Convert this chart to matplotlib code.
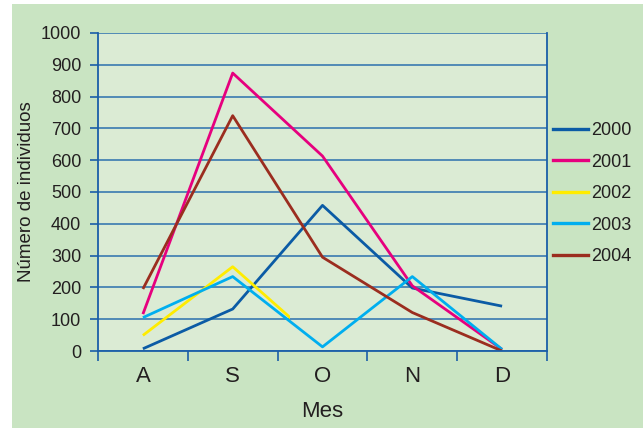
import matplotlib
matplotlib.use("Agg")
import matplotlib.pyplot as plt
from matplotlib.lines import Line2D
from matplotlib.patches import Rectangle

months = ["A", "S", "O", "N", "D"]
years = ["2000", "2001", "2002", "2003", "2004"]
v2000 = [7, 132, 458, 198, 141]
v2001 = [116, 874, 613, 205, 5]
v2002 = [49, 265, 15]          # line stops part way towards O in the reference
v2003 = [105, 234, 13, 234, 5]
v2004 = [195, 740, 295, 121, 0]
series = [v2000, v2001, v2002, v2003, v2004]
colors = ["#0b5ba5", "#e6007e", "#ffec00", "#00aeef", "#9b2d1f"]

plt.rcParams['font.family'] = ['Liberation Sans', 'DejaVu Sans']

fig = plt.figure(figsize=(6.43, 4.28), dpi=100)
fig.patch.set_facecolor("white")
bg = Rectangle((12/643, 0), 1 - 12/643, 1 - 4/428, transform=fig.transFigure,
               facecolor="#c9e4c2", edgecolor="none", zorder=-10)
fig.patches.append(bg)

ax = fig.add_axes([98/643, 1 - 351/428, (547 - 98)/643, (351 - 33)/428])
ax.set_facecolor("#dbebd4")

for vals, c, lab in zip(series, colors, years):
    xs = list(range(len(vals)))
    line, = ax.plot(xs, vals, color=c, lw=2.0, label=lab, solid_capstyle="butt")
    if lab == "2002":
        clip = Rectangle((-0.5, 0), 2.14, 1000, transform=ax.transData)
        line.set_clip_path(clip)

ax.set_xlim(-0.5, 4.5)
ax.set_ylim(0, 1000)
ax.set_yticks(range(0, 1001, 100))
ax.set_xticks([i - 0.5 for i in range(6)])
ax.set_xticklabels([])
ax.set_xticks(list(range(len(months))), minor=True)
ax.set_xticklabels(months, minor=True, fontsize=16, color="#231f20")
ax.tick_params(axis="x", which="minor", length=0, pad=11)
ax.tick_params(axis="x", which="major", length=7, width=1.2, color="#1a5ea8", direction="out")
ax.tick_params(axis="y", length=6, width=1.2, color="#1a5ea8", direction="out",
               labelsize=13, labelcolor="#231f20", pad=6)

ax.yaxis.grid(True, color="#3a7ab0", lw=1.2)
ax.set_axisbelow(True)
for s in ["left", "bottom", "right"]:
    ax.spines[s].set_color("#1a5ea8")
    ax.spines[s].set_linewidth(1.3)
ax.spines["top"].set_visible(False)

ax.set_xlabel("Mes", fontsize=16, color="#231f20", labelpad=10)
ax.set_ylabel("Número de individuos", fontsize=13.5, color="#231f20", labelpad=4)

handles = [Line2D([0], [0], color=c, lw=2.4) for c in colors]
fig.legend(handles, years, loc="upper left", bbox_to_anchor=(546/643, 1 - 115/428),
           frameon=False, fontsize=13, handlelength=1.95, handletextpad=0.15,
           labelspacing=0.80, borderaxespad=0, labelcolor="#231f20")

fig.savefig("out.png", dpi=100, facecolor=fig.get_facecolor())
